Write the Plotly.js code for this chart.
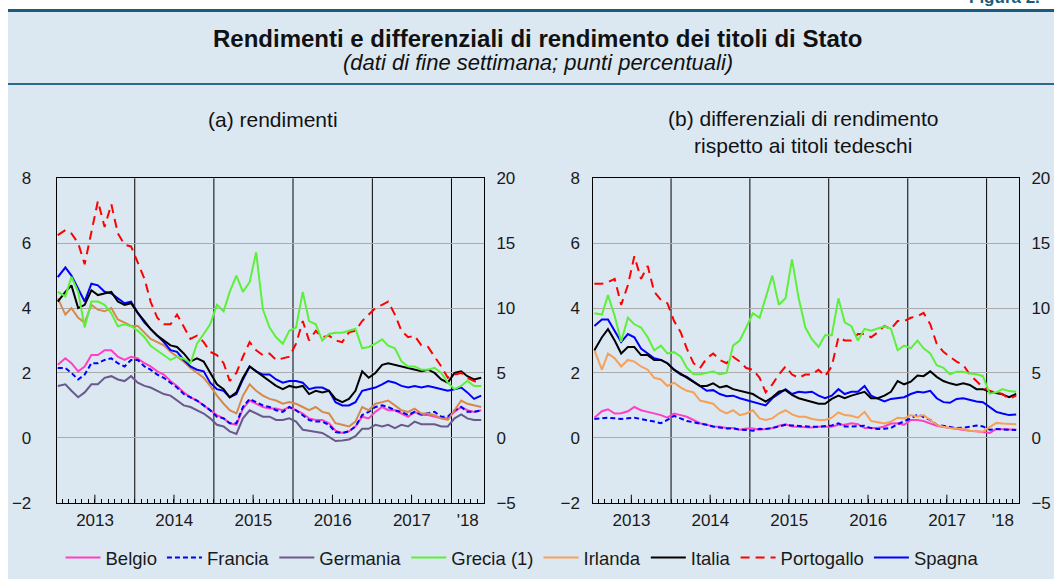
<!DOCTYPE html>
<html>
<head>
<meta charset="utf-8">
<script src="https://cdn.plot.ly/plotly-3.0.1.min.js"></script>
<style>
html,body{margin:0;padding:0;background:#fff;}
#chart{width:1054px;height:579px;}
</style>
</head>
<body>
<div id="chart"></div>
<script>
// ---- Dates (weekly data sampled monthly) ----
const dates = [
 "2013-01-11","2013-02-15","2013-03-15","2013-04-15","2013-05-15","2013-06-15","2013-07-15","2013-08-15","2013-09-15","2013-10-15","2013-11-15","2013-12-15",
 "2014-01-15","2014-02-15","2014-03-15","2014-04-15","2014-05-15","2014-06-15","2014-07-15","2014-08-15","2014-09-15","2014-10-15","2014-11-15","2014-12-15",
 "2015-01-15","2015-02-15","2015-03-15","2015-04-15","2015-05-15","2015-06-15","2015-07-15","2015-08-15","2015-09-15","2015-10-15","2015-11-15","2015-12-15",
 "2016-01-15","2016-02-15","2016-03-15","2016-04-15","2016-05-15","2016-06-15","2016-07-15","2016-08-15","2016-09-15","2016-10-15","2016-11-15","2016-12-15",
 "2017-01-15","2017-02-15","2017-03-15","2017-04-15","2017-05-15","2017-06-15","2017-07-15","2017-08-15","2017-09-15","2017-10-15","2017-11-15","2017-12-15",
 "2018-01-15","2018-02-15","2018-03-15","2018-04-15","2018-05-18"
];

// ---- Axis decorations ----
const yearLabelPos  = ["2013-07-02","2014-07-02","2015-07-02","2016-07-02","2017-07-02","2018-03-17"];
const yearLabelText = ["2013","2014","2015","2016","2017","'18"];
const yearStarts    = ["2014-01-01","2015-01-01","2016-01-01","2017-01-01","2018-01-01"];
const midYearTicks  = ["2013-07-01","2014-07-01","2015-07-01","2016-07-01","2017-07-01"];
const xRange = ["2013-01-06","2018-05-31"];

// ---- (a) rendimenti ----
const belgio_a = [2.25,2.45,2.3,2.05,2.2,2.55,2.55,2.7,2.7,2.5,2.4,2.5,
 2.45,2.3,2.2,2.05,1.95,1.75,1.6,1.4,1.25,1.15,1.0,0.85,
 0.7,0.6,0.45,0.4,0.9,1.15,1.05,0.95,0.9,0.9,0.85,0.95,
 0.85,0.75,0.6,0.55,0.55,0.45,0.22,0.15,0.2,0.35,0.65,0.6,
 0.8,0.95,0.85,0.85,0.75,0.65,0.8,0.7,0.7,0.65,0.6,0.6,
 0.8,0.95,0.85,0.8,0.85];
const francia_a = [2.15,2.15,2.0,1.8,1.95,2.3,2.3,2.4,2.45,2.3,2.2,2.4,
 2.4,2.2,2.1,1.95,1.85,1.7,1.55,1.35,1.25,1.15,1.0,0.85,
 0.65,0.6,0.45,0.45,0.95,1.2,1.1,1.0,0.95,0.85,0.8,0.95,
 0.85,0.7,0.55,0.5,0.5,0.4,0.18,0.15,0.2,0.35,0.7,0.8,
 0.95,1.0,0.95,0.85,0.8,0.7,0.8,0.72,0.75,0.8,0.65,0.65,
 0.85,0.95,0.8,0.8,0.85];
const germania_a = [1.6,1.65,1.45,1.25,1.4,1.65,1.65,1.85,1.9,1.8,1.75,1.9,
 1.7,1.6,1.55,1.45,1.35,1.3,1.15,1.0,0.95,0.85,0.75,0.6,
 0.4,0.35,0.2,0.12,0.6,0.85,0.75,0.65,0.65,0.55,0.55,0.6,
 0.5,0.25,0.22,0.18,0.15,0.03,-0.1,-0.08,-0.05,0.05,0.28,0.28,
 0.4,0.35,0.4,0.3,0.4,0.35,0.5,0.42,0.42,0.42,0.35,0.35,
 0.6,0.72,0.6,0.55,0.55];
const grecia_a = [11.25,10.9,12.4,11.25,8.5,10.5,10.5,10.25,9.6,8.6,8.75,8.6,
 8.25,7.75,7.1,6.75,6.4,6.0,6.25,6.1,5.75,7.25,8.0,8.75,
 10.25,9.75,11.25,12.5,11.25,12.0,14.3,9.9,8.5,7.75,7.25,8.25,
 8.5,11.25,9.0,8.75,7.5,8.0,8.1,8.1,8.25,8.4,6.9,7.0,
 7.25,7.6,7.1,6.9,5.9,5.5,5.5,5.25,5.25,5.4,5.0,4.25,
 3.75,4.0,4.4,4.0,4.0];
const irlanda_a = [4.3,3.8,4.0,3.7,3.55,4.1,3.95,3.9,4.0,3.65,3.55,3.45,
 3.45,3.25,3.05,2.95,2.85,2.65,2.5,2.35,2.15,2.0,1.85,1.6,
 1.3,1.05,0.85,0.75,1.3,1.65,1.45,1.3,1.2,1.15,1.05,1.1,
 1.05,0.95,0.85,0.95,0.8,0.75,0.45,0.4,0.35,0.5,0.95,0.85,
 1.05,1.1,1.15,1.0,0.85,0.8,0.9,0.75,0.75,0.7,0.6,0.55,
 0.85,1.15,1.05,1.0,0.95];
const italia_a = [4.2,4.5,4.7,4.0,4.1,4.55,4.4,4.45,4.5,4.2,4.1,4.15,
 3.85,3.6,3.35,3.15,3.0,2.85,2.8,2.6,2.35,2.45,2.35,2.0,
 1.65,1.5,1.25,1.4,1.85,2.2,2.05,1.9,1.75,1.6,1.5,1.6,
 1.55,1.6,1.35,1.45,1.4,1.45,1.2,1.1,1.2,1.45,2.05,1.85,
 2.0,2.25,2.3,2.25,2.2,2.15,2.1,2.05,2.1,2.0,1.8,1.7,
 2.0,2.05,1.9,1.8,1.85];
const portogallo_a = [6.25,6.4,6.3,6.0,5.35,6.3,7.3,6.5,7.2,6.3,5.95,5.9,
 5.4,4.9,4.2,3.7,3.5,3.5,3.8,3.4,3.05,3.15,2.95,2.65,
 2.55,2.3,1.75,2.0,2.5,2.95,2.7,2.55,2.6,2.4,2.45,2.5,
 2.9,3.6,3.0,3.3,3.1,3.15,3.0,2.95,3.25,3.3,3.6,3.8,
 4.0,4.1,4.2,3.8,3.3,3.1,3.15,2.85,2.8,2.5,2.2,1.85,
 1.95,2.0,1.85,1.75,1.68];
const spagna_a = [4.95,5.25,5.0,4.6,4.2,4.75,4.7,4.5,4.45,4.3,4.15,4.2,
 3.85,3.55,3.35,3.15,2.95,2.7,2.65,2.4,2.2,2.1,2.05,1.7,
 1.5,1.45,1.25,1.35,1.8,2.2,2.05,1.95,1.95,1.8,1.7,1.75,
 1.75,1.7,1.5,1.55,1.55,1.45,1.1,1.0,1.0,1.1,1.45,1.5,
 1.55,1.65,1.75,1.7,1.6,1.55,1.6,1.55,1.6,1.55,1.5,1.45,
 1.5,1.55,1.4,1.2,1.3];

// ---- (b) differenziali rispetto ai titoli tedeschi ----
const belgio_b = [0.62,0.82,0.88,0.75,0.76,0.82,0.95,0.85,0.8,0.75,0.7,0.62,
 0.75,0.7,0.65,0.55,0.45,0.4,0.35,0.34,0.3,0.3,0.25,0.29,
 0.29,0.25,0.28,0.3,0.37,0.42,0.35,0.34,0.33,0.32,0.34,0.34,
 0.34,0.4,0.4,0.45,0.42,0.3,0.3,0.3,0.35,0.44,0.45,0.4,
 0.55,0.55,0.52,0.45,0.37,0.33,0.3,0.27,0.24,0.22,0.2,0.17,
 0.15,0.27,0.27,0.25,0.25];
const francia_b = [0.58,0.6,0.62,0.6,0.58,0.6,0.62,0.58,0.55,0.5,0.45,0.55,
 0.68,0.6,0.52,0.48,0.45,0.4,0.35,0.32,0.29,0.29,0.25,0.24,
 0.22,0.28,0.27,0.3,0.35,0.4,0.38,0.36,0.36,0.34,0.34,0.36,
 0.38,0.45,0.35,0.35,0.35,0.37,0.3,0.27,0.28,0.3,0.42,0.5,
 0.6,0.72,0.65,0.55,0.4,0.36,0.32,0.3,0.31,0.34,0.38,0.35,
 0.25,0.27,0.26,0.25,0.24];
const grecia_b = [9.6,9.5,11.0,9.4,7.4,9.25,8.75,8.5,7.75,6.75,7.1,6.5,
 6.6,6.25,5.4,4.9,4.9,5.0,5.1,4.9,5.0,7.1,7.5,8.5,
 9.6,9.25,10.75,12.5,10.25,10.75,13.75,10.75,8.5,7.6,7.0,7.9,
 7.9,10.75,8.9,8.6,7.5,8.4,8.25,8.4,8.6,8.4,6.75,7.1,
 6.9,7.5,6.9,6.5,5.6,5.4,4.9,5.1,5.1,4.95,4.9,4.75,
 3.4,3.5,3.75,3.6,3.55];
const irlanda_b = [2.7,2.1,2.6,2.45,2.2,2.4,2.35,2.2,2.1,1.85,1.8,1.6,
 1.7,1.55,1.45,1.4,1.15,1.1,1.05,0.85,0.75,0.85,0.7,0.75,
 0.85,0.6,0.55,0.6,0.75,0.85,0.72,0.65,0.65,0.58,0.55,0.55,
 0.62,0.78,0.7,0.68,0.62,0.8,0.52,0.48,0.44,0.5,0.62,0.6,
 0.7,0.65,0.7,0.55,0.4,0.34,0.3,0.29,0.27,0.22,0.2,0.19,
 0.33,0.46,0.44,0.43,0.42];
const italia_b = [2.7,3.1,3.35,3.0,2.6,2.8,2.8,2.55,2.55,2.4,2.4,2.3,
 2.1,1.97,1.85,1.73,1.6,1.6,1.68,1.55,1.6,1.5,1.45,1.42,
 1.35,1.22,1.12,1.25,1.42,1.47,1.32,1.22,1.16,1.1,1.05,1.05,
 1.2,1.3,1.22,1.3,1.37,1.42,1.22,1.22,1.3,1.42,1.75,1.65,
 1.73,1.92,1.9,2.05,1.88,1.75,1.68,1.63,1.68,1.63,1.5,1.5,
 1.42,1.37,1.34,1.25,1.35];
const portogallo_b = [4.75,4.75,4.8,4.9,4.1,4.7,5.6,4.9,5.3,4.5,4.25,4.15,
 3.6,3.25,2.75,2.3,2.15,2.45,2.6,2.4,2.3,2.5,2.35,2.15,
 2.1,1.85,1.4,1.65,1.95,2.2,1.95,1.85,1.95,1.95,2.1,1.9,
 2.2,3.1,3.0,3.0,3.2,3.2,3.1,3.25,3.45,3.35,3.6,3.6,
 3.7,3.75,3.85,3.5,2.9,2.65,2.5,2.35,2.25,1.95,1.75,1.55,
 1.45,1.4,1.35,1.2,1.3];
const spagna_b = [3.45,3.65,3.65,3.3,2.95,3.2,3.1,2.75,2.6,2.45,2.4,2.3,
 2.1,1.95,1.88,1.73,1.6,1.45,1.47,1.35,1.28,1.3,1.22,1.16,
 1.1,1.05,1.0,1.22,1.35,1.5,1.35,1.42,1.4,1.42,1.3,1.22,
 1.3,1.5,1.35,1.42,1.42,1.6,1.3,1.22,1.12,1.2,1.22,1.25,
 1.35,1.42,1.4,1.45,1.22,1.1,1.08,1.2,1.22,1.16,1.12,1.1,
 0.95,0.8,0.75,0.7,0.72];

// ---- Styles ----
const FONT = "Liberation Sans, Arial, Helvetica, sans-serif";
const C = {
  belgio:"#ff3fc6", francia:"#0000ff", germania:"#6a5a8c", grecia:"#5cf03a",
  irlandaA:"#d6894a", irlandaB:"#f7a058", italia:"#000000", portogallo:"#ff0000", spagna:"#0000ff"
};
const DASH_FR = "5px,3px";
const DASH_PT = "9px,6px";

function tr(name, y, xa, ya, color, opts) {
  opts = opts || {};
  return {
    type: "scatter", mode: "lines", x: dates, y: y, name: name,
    xaxis: xa, yaxis: ya,
    line: {color: color, width: opts.width || 2, dash: opts.dash || "solid"},
    showlegend: !!opts.legend, legendrank: opts.rank || 1000,
    hoverinfo: "skip"
  };
}

const data = [
  // panel (a)
  tr("Germania", germania_a, "x", "y", C.germania, {legend:true, rank:3}),
  tr("Belgio", belgio_a, "x", "y", C.belgio, {legend:true, rank:1}),
  tr("Francia", francia_a, "x", "y", C.francia, {dash:DASH_FR, legend:true, rank:2}),
  tr("Irlanda", irlanda_a, "x", "y", C.irlandaA),
  tr("Spagna", spagna_a, "x", "y", C.spagna, {legend:true, rank:8}),
  tr("Italia", italia_a, "x", "y", C.italia, {legend:true, rank:6}),
  tr("Portogallo", portogallo_a, "x", "y", C.portogallo, {dash:DASH_PT, legend:true, rank:7}),
  tr("Grecia (1)", grecia_a, "x", "y2", C.grecia, {legend:true, rank:4}),
  // panel (b)
  tr("Belgio", belgio_b, "x2", "y3", C.belgio),
  tr("Francia", francia_b, "x2", "y3", C.francia, {dash:DASH_FR}),
  tr("Irlanda", irlanda_b, "x2", "y3", C.irlandaB, {legend:true, rank:5}),
  tr("Spagna", spagna_b, "x2", "y3", C.spagna),
  tr("Italia", italia_b, "x2", "y3", C.italia),
  tr("Portogallo", portogallo_b, "x2", "y3", C.portogallo, {dash:DASH_PT}),
  tr("Grecia (1)", grecia_b, "x2", "y4", C.grecia)
];

const W = 1054, H = 579;
const px = v => v / W;
const py = v => 1 - v / H;

const domA = [px(56.7), px(484)];
const domB = [px(593.3), px(1019)];
const domY = [py(502.7), py(178.3)];
const plotH = 502.7 - 178.3;
const tickFont = {family: FONT, size: 17, color: "#1a1a1a"};

function baseX(domain, anchor) {
  return {
    domain: domain, anchor: anchor, type: "date", range: xRange,
    tickmode: "array", tickvals: yearLabelPos, ticktext: yearLabelText,
    ticks: "outside", ticklen: 2, tickcolor: "rgba(0,0,0,0)", tickfont: tickFont,
    showgrid: false,
    showline: true, linecolor: "#000", linewidth: 1, mirror: true,
    zeroline: false, fixedrange: true,
    minor: {tickmode: "linear", tick0: "2013-01-01", dtick: "M1", ticks: "inside",
            ticklen: 4, tickwidth: 1, tickcolor: "#000", showgrid: false}
  };
}
function leftY(anchor, standoff) {
  return {
    domain: domY, anchor: anchor, range: [-2, 8], tickmode: "linear", tick0: 0, dtick: 2,
    showgrid: true, gridcolor: "#ababab", gridwidth: 1, zeroline: false,
    showline: true, linecolor: "#000", linewidth: 1,
    ticks: "outside", ticklen: standoff, tickcolor: "rgba(0,0,0,0)",
    tickfont: tickFont, fixedrange: true
  };
}
function rightY(over, anchor) {
  return {
    overlaying: over, anchor: anchor, side: "right", range: [-5, 20], tickmode: "linear", tick0: 0, dtick: 5,
    showgrid: false, zeroline: false, showline: true, linecolor: "#000", linewidth: 1,
    ticks: "outside", ticklen: 8, tickcolor: "rgba(0,0,0,0)",
    tickfont: tickFont, fixedrange: true
  };
}

// year separators and mid-year ticks, placed through the axes' own date scales
const axisShapes = [];
[["x", "y domain"], ["x2", "y3 domain"]].forEach(([xr, yr]) => {
  yearStarts.forEach(d => axisShapes.push({
    type: "line", xref: xr, yref: yr, x0: d, x1: d, y0: 0, y1: 1,
    line: {color: "#000", width: 1}, layer: "below"
  }));
  midYearTicks.forEach(d => axisShapes.push({
    type: "line", xref: xr, yref: yr, x0: d, x1: d, y0: 0, y1: 8 / plotH,
    line: {color: "#000", width: 1}, layer: "below"
  }));
});

const layout = {
  width: W, height: H,
  margin: {l: 0, r: 0, t: 0, b: 0, pad: 0},
  paper_bgcolor: "#ffffff", plot_bgcolor: "#ffffff",
  font: {family: FONT, color: "#1a1a1a"},
  showlegend: true,
  hovermode: false,
  xaxis: baseX(domA, "y"),
  yaxis: leftY("x", 21),
  yaxis2: rightY("y", "x"),
  xaxis2: baseX(domB, "y3"),
  yaxis3: leftY("x2", 9),
  yaxis4: rightY("y3", "x2"),
  legend: {
    orientation: "h", x: px(522), xanchor: "center", y: py(558), yanchor: "middle",
    bgcolor: "rgba(0,0,0,0)", font: {family: FONT, size: 18.5, color: "#1a1a1a"},
    traceorder: "normal", itemwidth: 35
  },
  shapes: [
    {type: "rect", xref: "paper", yref: "paper", x0: px(8), x1: 1, y0: 0, y1: py(11),
     fillcolor: "#dce8f1", line: {width: 0}, layer: "below"},
    {type: "line", xref: "paper", yref: "paper", x0: px(8), x1: 1, y0: py(10.5), y1: py(10.5),
     line: {color: "#1b5b7e", width: 3}},
    {type: "line", xref: "paper", yref: "paper", x0: px(8), x1: 1, y0: py(84), y1: py(84),
     line: {color: "#2b6a8c", width: 2}}
  ].concat(axisShapes),
  annotations: [
    {xref: "paper", yref: "paper", x: px(537.5), y: py(38), xanchor: "center", yanchor: "middle",
     showarrow: false, text: "<b>Rendimenti e differenziali di rendimento dei titoli di Stato</b>",
     font: {family: FONT, size: 24, color: "#111"}},
    {xref: "paper", yref: "paper", x: px(537.5), y: py(63), xanchor: "center", yanchor: "middle",
     showarrow: false, text: "<i>(dati di fine settimana; punti percentuali)</i>",
     font: {family: FONT, size: 22, color: "#111"}},
    {xref: "paper", yref: "paper", x: px(272.5), y: py(119), xanchor: "center", yanchor: "middle",
     showarrow: false, text: "(a) rendimenti",
     font: {family: FONT, size: 21, color: "#111"}},
    {xref: "paper", yref: "paper", x: px(803), y: py(132.5), xanchor: "center", yanchor: "middle",
     showarrow: false, text: "(b) differenziali di rendimento<br>rispetto ai titoli tedeschi",
     font: {family: FONT, size: 21, color: "#111"}},
    {xref: "paper", yref: "paper", x: px(967), y: py(9), xanchor: "left", yanchor: "bottom",
     showarrow: false, text: "<b>Figura 2.</b>",
     font: {family: FONT, size: 17, color: "#1b5b7e"}}
  ]
};

Plotly.newPlot("chart", data, layout, {staticPlot: true, displayModeBar: false});
</script>
</body>
</html>
